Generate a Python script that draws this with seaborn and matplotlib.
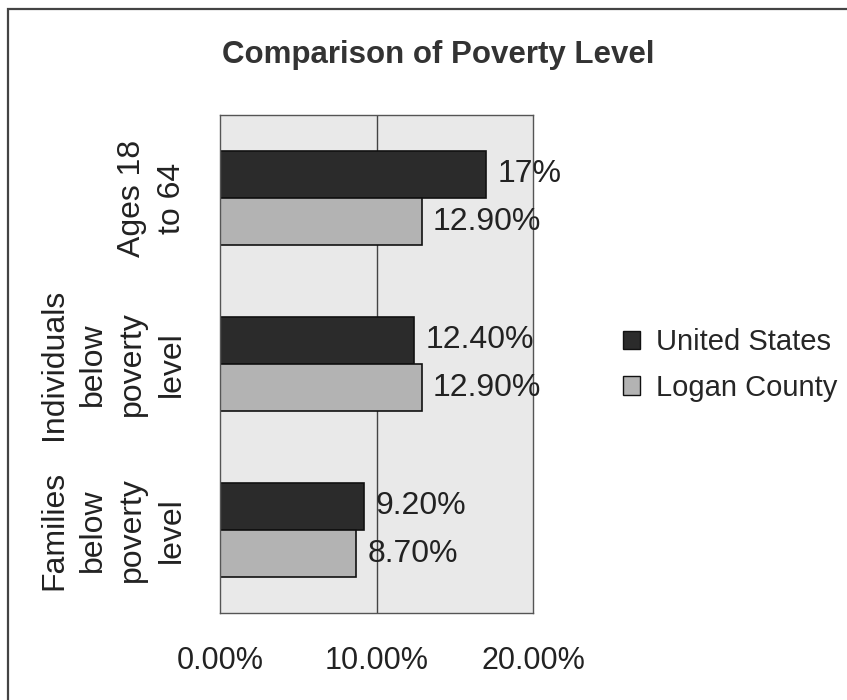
import matplotlib
matplotlib.use("Agg")
import matplotlib.pyplot as plt
import matplotlib.patches as mpatches
import seaborn as sns
import pandas as pd

categories = ["Ages 18\nto 64", "Individuals\nbelow\npoverty\nlevel", "Families\nbelow\npoverty\nlevel"]
series = ["United States", "Logan County"]
us_values = [17.0, 12.4, 9.2]
logan_values = [12.9, 12.9, 8.7]
us_labels = ["17%", "12.40%", "9.20%"]
logan_labels = ["12.90%", "12.90%", "8.70%"]
x_ticks = [0, 10, 20]
x_ticklabels = ["0.00%", "10.00%", "20.00%"]
title = "Comparison of Poverty Level"

df = pd.DataFrame({
    "category": categories * 2,
    "series": [series[0]] * 3 + [series[1]] * 3,
    "value": us_values + logan_values,
})

sns.set_style("white")
plt.rcParams["font.family"] = ["Liberation Sans", "DejaVu Sans"]

fig = plt.figure(figsize=(8.47, 7.0), dpi=100)
ax = fig.add_axes([220 / 847, 1 - 613 / 700, (533 - 220) / 847, (613 - 115) / 700])

palette = {series[0]: "#2b2b2b", series[1]: "#b3b3b3"}
sns.barplot(data=df, x="value", y="category", hue="series", order=categories,
            hue_order=series, palette=palette, orient="h", width=0.57,
            edgecolor="#111111", linewidth=1.2, saturation=1, ax=ax, legend=False)

ax.set_facecolor("#e9e9e9")
ax.set_xlim(0, 20)
ax.set_xticks(x_ticks)
ax.set_xticklabels(x_ticklabels, fontsize=22, color="#222222")
ax.set_xlabel("")
ax.set_ylabel("")
ax.tick_params(axis="x", length=9, width=1, color="#555555", pad=15, direction="out")
ax.tick_params(axis="y", length=0, pad=24)
for lbl in ax.get_yticklabels():
    lbl.set_rotation(90)
    lbl.set_fontsize(23)
    lbl.set_color("#222222")
    lbl.set_va("center")
    lbl.set_ha("right")
    lbl.set_multialignment("center")
    lbl.set_linespacing(1.4)

ax.axvline(10, color="#444444", lw=1.0, zorder=0.5)
for s in ax.spines.values():
    s.set_visible(True)
    s.set_color("#555555")
    s.set_linewidth(1.0)

label_sets = [us_labels, logan_labels]
for cont, labs in zip(ax.containers, label_sets):
    ax.bar_label(cont, labels=labs, padding=8, fontsize=23, color="#222222")

fig.text(438 / 847, 1 - 55 / 700, title, ha="center", va="center",
         fontsize=22.5, fontweight="bold", color="#333333")

handles = [mpatches.Patch(facecolor=palette[s], edgecolor="#111111", linewidth=1.0, label=s)
           for s in series]
fig.legend(handles=handles, loc="center left", bbox_to_anchor=(611 / 847, 1 - 365 / 700),
           frameon=False, fontsize=21, handlelength=0.6, handleheight=0.6,
           handletextpad=0.55, labelspacing=0.6, borderaxespad=0)

border = mpatches.Rectangle((7.5 / 847, -0.05), 1.0, 1.05 - 9 / 700, transform=fig.transFigure,
                            fill=False, edgecolor="#444444", linewidth=1.6)
fig.patches.append(border)

fig.savefig("out.png", dpi=100)
